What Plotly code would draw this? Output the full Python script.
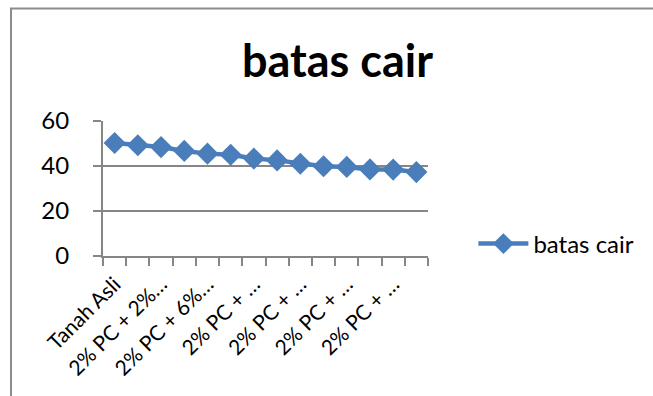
import plotly.graph_objects as go

categories = [
    "Tanah Asli", "2% PC", "2% PC + 2% ASP", "2% PC + 4% ASP", "2% PC + 6% ASP",
    "2% PC + 8% ASP", "2% PC + 10% ASP", "2% PC + 12% ASP", "2% PC + 14% ASP",
    "2% PC + 16% ASP", "2% PC + 18% ASP", "2% PC + 20% ASP", "2% PC + 22% ASP",
    "2% PC + 24% ASP",
]
values = [50.2, 49.2, 48.4, 46.7, 45.5, 45.0, 43.3, 42.5, 41.0, 39.9, 39.6, 38.5, 38.4, 37.3]
shown_labels = ["Tanah Asli", "2% PC + 2%…", "2% PC + 6%…", "2% PC + …", "2% PC + …", "2% PC + …", "2% PC + …"]
series_name = "batas cair"
title_text = "batas cair"
y_ticks = [0, 20, 40, 60]

W, H = 653, 396
L, R, T, B = 103, 428, 121, 256

idx = list(range(len(categories)))
FONT = "Lato, 'Open Sans', sans-serif"
GRAY = "#868686"
BLUE = "#4A7EBB"

fig = go.Figure()
fig.add_trace(go.Scatter(
    x=idx, y=values, name=series_name, mode="lines+markers",
    line=dict(color=BLUE, width=4.5),
    marker=dict(symbol="diamond", size=17, color=BLUE),
    hovertext=categories, xaxis="x", yaxis="y",
))

fig.update_layout(
    width=W, height=H,
    margin=dict(l=L, r=W - R, t=T, b=H - B, pad=0, autoexpand=False),
    paper_bgcolor="white", plot_bgcolor="white",
    font=dict(family=FONT, color="black", size=24),
    title=dict(text="<b>%s</b>" % title_text, x=337.5 / W, xanchor="center",
               y=1 - 77 / H, yanchor="bottom", yref="container",
               font=dict(size=45, family=FONT, color="black")),
    xaxis=dict(
        range=[-0.5, len(categories) - 0.5],
        tickvals=[i - 0.5 for i in range(len(categories) + 1)],
        ticktext=[""] * (len(categories) + 1),
        ticks="outside", ticklen=8, tickcolor=GRAY, tickwidth=2,
        showline=True, linecolor=GRAY, linewidth=2,
        showgrid=False, zeroline=False, fixedrange=True, automargin=False,
    ),
    xaxis2=dict(
        overlaying="x", matches="x", side="bottom", anchor="y",
        tickvals=idx[::2], ticktext=shown_labels, tickangle=-45,
        ticks="", showline=False, showgrid=False, zeroline=False,
        tickfont=dict(size=21, family=FONT), ticklabelstandoff=11, automargin=False,
    ),
    yaxis=dict(
        range=[0, 60], tickvals=y_ticks,
        ticks="outside", ticklen=8, tickcolor=GRAY, tickwidth=2,
        showline=True, linecolor=GRAY, linewidth=2,
        showgrid=True, gridcolor=GRAY, gridwidth=2,
        zeroline=False, tickfont=dict(size=24, family=FONT), ticklabelstandoff=19,
        automargin=False,
    ),
    legend=dict(x=(475 - L) / (R - L) - 0.005, xanchor="left", y=1 - (244 - T) / (B - T), yanchor="middle",
                font=dict(size=24, family=FONT), itemwidth=50, bgcolor="rgba(0,0,0,0)"),
    showlegend=True,
)

# dummy trace to enable xaxis2 labels
fig.add_trace(go.Scatter(x=[idx[0]], y=[None], xaxis="x2", yaxis="y", showlegend=False, hoverinfo="skip"))

# chart-area border (clipped by the image edges)
pw, ph = R - L, B - T
def px(x): return (x - L) / pw
def py(y): return 1 - (y - T) / ph
fig.add_shape(type="path", xref="paper", yref="paper",
              path="M %f %f L %f %f L %f %f" % (px(11), py(H + 10), px(11), py(8.5), px(W + 10), py(8.5)),
              line=dict(color="#8c8c8c", width=2))

fig.write_html("out.html")
